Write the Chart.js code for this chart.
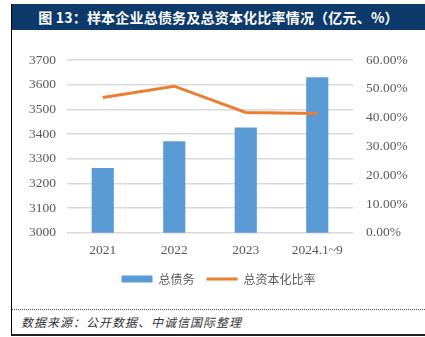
<!DOCTYPE html>
<html>
<head>
<meta charset="utf-8">
<script src="https://cdn.jsdelivr.net/npm/chart.js@4.4.1/dist/chart.umd.min.js"></script>
<style>
  body { margin: 0; width: 425px; height: 337px; background: #fff; position: relative; overflow: hidden; }
  #frame { position: absolute; left: 11px; top: 4px; width: 420px; height: 330px; border-left: 1.5px solid #000; border-bottom: 2px solid #222; }
  #title { position: absolute; left: 12px; top: 4px; width: 413px; height: 26px; background: #0d3a6b; color: #fff;
    font: bold 14px "Noto Sans CJK SC", sans-serif; line-height: 26px; text-align: center; letter-spacing: 0.2px; }
  #wrap { position: absolute; left: 12px; top: 31px; width: 413px; height: 270px; }
  #sep { position: absolute; left: 12px; top: 309px; width: 413px; border-top: 1px dotted #555; }
  #source { position: absolute; left: 21px; top: 313px; font: italic 12px "Noto Sans CJK SC", sans-serif; color: #333; letter-spacing: 1px; }
</style>
</head>
<body>
<div id="frame"></div>
<div id="title">图 13：样本企业总债务及总资本化比率情况（亿元、%）</div>
<div id="wrap"><canvas id="myChart" width="413" height="270"></canvas></div>
<div id="sep"></div>
<div id="source">数据来源：公开数据、中诚信国际整理</div>
<script>
const categorias = ["2021", "2022", "2023", "2024.1~9"];
const deuda = [3263, 3371, 3427, 3630];
const ratio = [47.0, 50.9, 41.8, 41.4];
const nombres = ["总债务", "总资本化比率"];

const ctx = document.getElementById("myChart").getContext("2d");
const myChart = new Chart(ctx, {
  type: "bar",
  data: {
    labels: categorias,
    datasets: [
      {
        type: "line",
        label: nombres[1],
        data: ratio,
        yAxisID: "y1",
        borderColor: "#ED7D31",
        backgroundColor: "#ED7D31",
        borderWidth: 3,
        pointRadius: 0,
        pointStyle: "line",
        tension: 0,
        order: 0,
      },
      {
        label: nombres[0],
        data: deuda,
        yAxisID: "y",
        backgroundColor: "#5B9BD5",
        borderWidth: 0,
        pointStyle: "rect",
        barPercentage: 0.31,
        categoryPercentage: 1,
        order: 1,
      },
    ],
  },
  options: {
    responsive: false,
    animation: false,
    layout: { padding: { top: 29, left: 0, right: 0, bottom: 6 } },
    plugins: {
      tooltip: { enabled: false },
      legend: {
        position: "bottom",
        reverse: true,
        labels: {
          usePointStyle: true,
          pointStyleWidth: 31,
          boxHeight: 7,
          padding: 12,
          color: "#595959",
          font: { family: "Noto Sans CJK SC", size: 12 },
        },
      },
    },
    scales: {
      x: {
        grid: { display: false },
        border: { display: false },
        ticks: { color: "#595959", padding: 2, font: { family: "Liberation Serif", size: 13.5 } },
      },
      y: {
        position: "left",
        min: 3000,
        max: 3700,
        afterFit: (s) => { s.width = 55; },
        grid: { color: "#D9D9D9", lineWidth: 1.5, drawTicks: false },
        border: { display: false },
        ticks: {
          stepSize: 100,
          color: "#595959",
          padding: 11,
          font: { family: "Liberation Serif", size: 13.5 },
          callback: (v) => String(v),
        },
      },
      y1: {
        position: "right",
        min: 0,
        max: 60,
        afterFit: (s) => { s.width = 72; },
        grid: { display: false, drawTicks: false },
        border: { display: false },
        ticks: {
          stepSize: 10,
          color: "#595959",
          padding: 13,
          font: { family: "Liberation Serif", size: 13.5 },
          callback: (v) => v.toFixed(2) + "%",
        },
      },
    },
  },
});
</script>
</body>
</html>
